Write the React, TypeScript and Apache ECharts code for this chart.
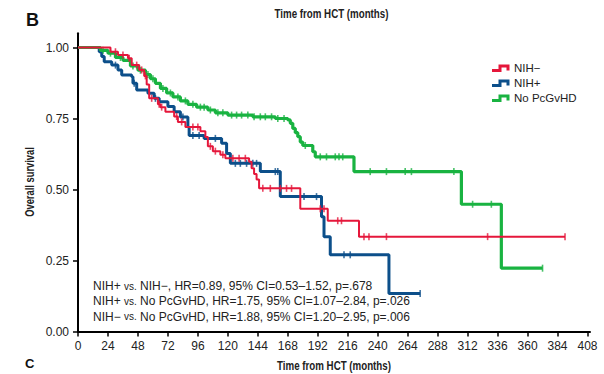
import React, { useEffect, useRef } from "react";
import * as echarts from "echarts";

// ---- Data ----
const xTicks = [0, 24, 48, 72, 96, 120, 144, 168, 192, 216, 240, 264, 288, 312, 336, 360, 384, 408];
const yTicks = [0, 0.25, 0.5, 0.75, 1.0];

// NIH− : step drop times and survival after drop
const nihMinusTimes = [0, 26, 32, 40, 43, 49, 53, 55, 57, 64, 66, 70, 77, 80, 86, 98, 102, 104, 108, 114, 118, 137, 139, 141, 143, 145, 178, 200, 225, 390];
const nihMinusSurv = [1.0, 0.985, 0.974, 0.962, 0.938, 0.921, 0.9, 0.87, 0.821, 0.8, 0.79, 0.774, 0.757, 0.738, 0.72, 0.705, 0.685, 0.652, 0.635, 0.622, 0.61, 0.598, 0.575, 0.555, 0.535, 0.504, 0.432, 0.39, 0.334, 0.334];
const nihMinusCensor = [30, 36, 41, 47, 51, 54, 59, 65, 67, 79, 83, 92, 96, 106, 110, 116, 124, 129, 134, 148, 154, 162, 167, 171, 194, 197, 208, 211, 229, 233, 247, 328, 390];

// NIH+
const nihPlusTimes = [0, 17, 19, 21, 27, 32, 35, 43, 44, 47, 56, 61, 65, 72, 77, 82, 88, 89, 101, 115, 119, 122, 146, 162, 195, 197, 202, 249, 274];
const nihPlusSurv = [1.0, 0.985, 0.968, 0.95, 0.938, 0.921, 0.903, 0.897, 0.874, 0.85, 0.839, 0.821, 0.809, 0.792, 0.774, 0.755, 0.72, 0.69, 0.68, 0.663, 0.627, 0.592, 0.563, 0.475, 0.404, 0.334, 0.27, 0.134, 0.134];
const nihPlusCensor = [30, 45, 62, 84, 92, 97, 110, 126, 130, 135, 140, 143, 158, 160, 181, 191, 213, 218, 274];

// No PcGvHD
const noPcTimes = [0, 18, 24, 30, 36, 42, 48, 54, 58, 62, 66, 71, 76, 82, 88, 95, 104, 110, 120, 140, 158, 168, 170, 172, 174, 176, 178, 180, 188, 190, 221, 307, 339, 372];
const noPcSurv = [1.0, 0.99, 0.98, 0.965, 0.955, 0.935, 0.92, 0.905, 0.89, 0.874, 0.856, 0.84, 0.826, 0.812, 0.8, 0.79, 0.78, 0.77, 0.762, 0.756, 0.75, 0.745, 0.733, 0.715, 0.7, 0.686, 0.667, 0.655, 0.633, 0.615, 0.563, 0.448, 0.223, 0.223];
const noPcCensor = [20, 26, 34, 44, 50, 56, 60, 68, 74, 80, 86, 92, 98, 101, 106, 112, 116, 123, 127, 131, 136, 141, 146, 150, 155, 160, 165, 182, 194, 199, 206, 209, 212, 234, 247, 262, 267, 301, 316, 331, 372];

const seriesNames = ["NIH−", "NIH+", "No PcGvHD"];
const seriesColors = ["#e5173b", "#0c4f8a", "#19b341"];

const statLines = [
  ["NIH+ ", "vs.", " NIH−, HR=0.89, 95% CI=0.53–1.52, p=.678"],
  ["NIH+ ", "vs.", " No PcGvHD, HR=1.75, 95% CI=1.07–2.84, p=.026"],
  ["NIH− ", "vs.", " No PcGvHD, HR=1.88, 95% CI=1.20–2.95, p=.006"],
];

const FONT = "'Liberation Sans', Arial, Helvetica, sans-serif";

function survAt(times: number[], surv: number[], t: number) {
  let s = surv[0];
  for (let i = 0; i < times.length; i++) {
    if (times[i] <= t) s = surv[i];
  }
  return s;
}

function pairs(times: number[], surv: number[]) {
  return times.map((t, i) => [t, surv[i]]);
}

export default function App() {
  const ref = useRef<HTMLDivElement>(null);

  useEffect(() => {
    if (!ref.current) return;
    const chart = echarts.init(ref.current, undefined, { renderer: "svg" });

    const groups = [
      { t: nihMinusTimes, s: nihMinusSurv, c: nihMinusCensor, w: 2 },
      { t: nihPlusTimes, s: nihPlusSurv, c: nihPlusCensor, w: 3 },
      { t: noPcTimes, s: noPcSurv, c: noPcCensor, w: 3.2 },
    ];

    const lineSeries: any[] = [];
    const zOrder = [2, 0, 1];
    groups.forEach((g, i) => {
      lineSeries.push({
        name: seriesNames[i],
        type: "line",
        step: "end",
        data: pairs(g.t, g.s),
        showSymbol: false,
        symbol: "none",
        lineStyle: { color: seriesColors[i], width: g.w },
        z: 2 + zOrder[i],
        silent: true,
      });
      lineSeries.push({
        name: seriesNames[i] + " censored",
        type: "scatter",
        data: g.c.map((t) => [t, survAt(g.t, g.s, t)]),
        symbol: "rect",
        symbolSize: [1.6, 7],
        itemStyle: { color: seriesColors[i] },
        z: 2 + zOrder[i],
        silent: true,
      });
    });

    const legendItems: any[] = [];
    seriesNames.forEach((n, i) => {
      const y = 68 + i * 15;
      legendItems.push({
        type: "polyline",
        shape: { points: [[492, y + 2.5], [500, y + 2.5], [500, y - 2], [508, y - 2], [508, y + 2.5]] },
        style: { stroke: seriesColors[i], lineWidth: 3, fill: null },
      });
      legendItems.push({
        type: "text",
        x: 514,
        y: y,
        style: { text: n, font: `11.5px ${FONT}`, fill: "#222", verticalAlign: "middle", align: "left" },
      });
    });

    const statItems = statLines.map((parts, i) => ({
      type: "text",
      x: 93,
      y: 286 + i * 15.3,
      style: {
        text: `{a|${parts[0]}}{b|${parts[1]}}{a|${parts[2]}}`,
        verticalAlign: "middle",
        align: "left",
        rich: {
          a: { fontFamily: FONT, fontSize: 12, fill: "#222" },
          b: { fontFamily: FONT, fontSize: 10, fill: "#222" },
        },
      },
    }));

    chart.setOption({
      animation: false,
      backgroundColor: "#fff",
      grid: { left: 78, right: 14, top: 33.3, bottom: 42.5, containLabel: false },
      xAxis: {
        type: "value",
        min: 0,
        max: 410,
        interval: 24,
        axisLine: { show: true, lineStyle: { color: "#000", width: 2 } },
        axisTick: { show: true, length: 5, lineStyle: { color: "#000", width: 1.5 }, customValues: xTicks },
        axisLabel: { show: true, customValues: xTicks, color: "#222", fontFamily: FONT, fontSize: 12, margin: 8 },
        splitLine: { show: false },
      },
      yAxis: {
        type: "value",
        min: 0,
        max: 1.05,
        interval: 0.25,
        axisLine: { show: true, lineStyle: { color: "#000", width: 2 } },
        axisTick: { show: true, length: 5, lineStyle: { color: "#000", width: 1.5 }, customValues: yTicks },
        axisLabel: {
          show: true,
          customValues: yTicks,
          color: "#222",
          fontFamily: FONT,
          fontSize: 12,
          margin: 9,
          formatter: (v: number) => v.toFixed(2),
        },
        splitLine: { show: false },
      },
      series: lineSeries,
      graphic: [
        { type: "text", x: 26, y: 20, style: { text: "B", font: `bold 18px ${FONT}`, fill: "#111", verticalAlign: "middle" } },
        { type: "text", x: 25, y: 363, style: { text: "C", font: `bold 13px ${FONT}`, fill: "#111", verticalAlign: "middle" } },
        {
          type: "text",
          x: 331.5,
          y: 14,
          scaleX: 0.78,
          style: { text: "Time from HCT (months)", font: `bold 12.5px ${FONT}`, fill: "#222", align: "center", verticalAlign: "middle" },
        },
        {
          type: "text",
          x: 334,
          y: 366,
          scaleX: 0.78,
          style: { text: "Time from HCT (months)", font: `bold 12.5px ${FONT}`, fill: "#222", align: "center", verticalAlign: "middle" },
        },
        {
          type: "text",
          x: 29.5,
          y: 182,
          rotation: Math.PI / 2,
          scaleX: 0.78,
          style: { text: "Overall survival", font: `bold 12px ${FONT}`, fill: "#222", align: "center", verticalAlign: "middle" },
        },
        ...legendItems,
        ...statItems,
      ],
    });

    return () => chart.dispose();
  }, []);

  return <div ref={ref} style={{ position: "fixed", left: 0, top: 0, width: 604, height: 374 }} />;
}
